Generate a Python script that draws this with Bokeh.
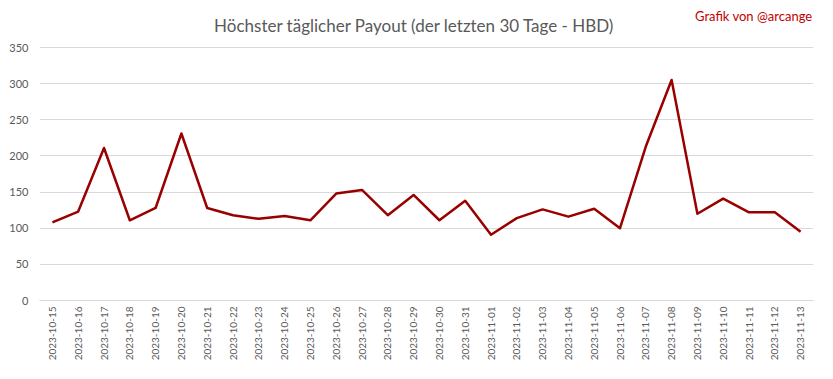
from bokeh.plotting import figure
from bokeh.models import Range1d, Label, FixedTicker
from bokeh.embed import file_html
from bokeh.resources import INLINE
import math

dates = ["2023-10-15", "2023-10-16", "2023-10-17", "2023-10-18", "2023-10-19",
         "2023-10-20", "2023-10-21", "2023-10-22", "2023-10-23", "2023-10-24",
         "2023-10-25", "2023-10-26", "2023-10-27", "2023-10-28", "2023-10-29",
         "2023-10-30", "2023-10-31", "2023-11-01", "2023-11-02", "2023-11-03",
         "2023-11-04", "2023-11-05", "2023-11-06", "2023-11-07", "2023-11-08",
         "2023-11-09", "2023-11-10", "2023-11-11", "2023-11-12", "2023-11-13"]
payout = [108, 123, 211, 111, 128, 231, 128, 118, 113, 117,
          111, 148, 153, 118, 146, 111, 138, 91, 114, 126,
          116, 127, 100, 213, 305, 120, 141, 122, 122, 95]
y_ticks = [0, 50, 100, 150, 200, 250, 300, 350]

title_text = "Höchster täglicher Payout (der letzten 30 Tage - HBD)"
credit_text = "Grafik von @arcange"

# frame spans the full height above the x axis, so the title texts sit inside it
FRAME_H = 300
Y_TOP = 350 * FRAME_H / 253.0

p = figure(x_range=dates, y_range=Range1d(0, Y_TOP), width=817, height=363,
           min_border_left=39, min_border_right=4, min_border_top=0, min_border_bottom=63,
           output_backend="svg", toolbar_location=None, title=None)
p.background_fill_color = "white"
p.border_fill_color = "white"
p.outline_line_color = None

p.line(dates, payout, line_color="#990000", line_width=2.5, line_join="round")

p.xgrid.grid_line_color = None
p.ygrid.grid_line_color = "#D9D9D9"
p.ygrid.grid_line_width = 1
p.yaxis.ticker = FixedTicker(ticks=y_ticks)
p.yaxis.axis_line_color = None
p.yaxis.major_tick_line_color = None
p.yaxis.minor_tick_line_color = None
p.yaxis.major_tick_in = 0
p.yaxis.major_tick_out = 0
p.yaxis.major_label_standoff = 11
p.yaxis.major_label_text_font = "Lato"
p.yaxis.major_label_text_font_size = "11px"
p.yaxis.major_label_text_color = "#595959"

p.xaxis.axis_line_color = "#D9D9D9"
p.xaxis.major_tick_line_color = None
p.xaxis.major_tick_in = 0
p.xaxis.major_tick_out = 0
p.xaxis.major_label_standoff = 6
p.xaxis.major_label_orientation = math.pi / 2
p.xaxis.major_label_text_font = "Lato"
p.xaxis.major_label_text_font_size = "10px"
p.xaxis.major_label_text_color = "#595959"

p.add_layout(Label(x=375, y=FRAME_H - 25, x_units="screen", y_units="screen",
                   text=title_text, text_align="center", text_baseline="middle",
                   text_font="Lato", text_font_size="17px", text_color="#595959"))
p.add_layout(Label(x=773, y=FRAME_H - 15, x_units="screen", y_units="screen",
                   text=credit_text, text_align="right", text_baseline="middle",
                   text_font="Lato", text_font_size="13px", text_color="#C00000"))

open("out.html", "w").write(file_html(p, INLINE))
